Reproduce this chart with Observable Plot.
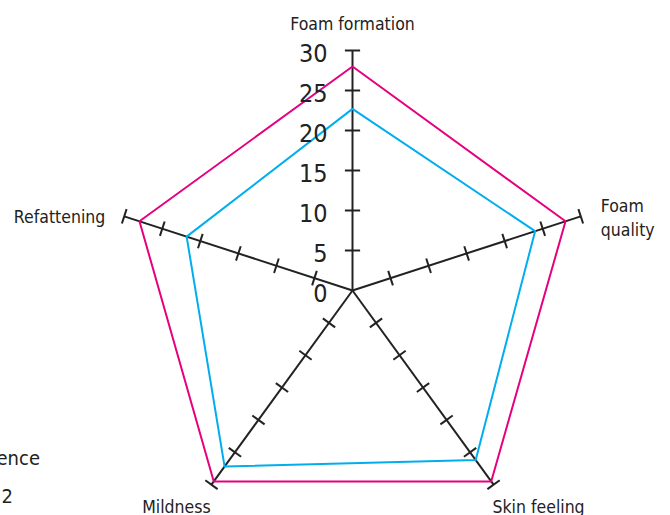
<!DOCTYPE html>
<html><head><meta charset="utf-8">
<script src="https://cdn.jsdelivr.net/npm/d3@7"></script>
<script src="https://cdn.jsdelivr.net/npm/@observablehq/plot@0.6"></script>
<style>
html,body{margin:0;padding:0;background:#fff;overflow:hidden;width:670px;height:515px;position:relative}
#chart{position:absolute;left:0;top:0}
.leg{position:absolute;font-family:"DejaVu Sans Condensed","DejaVu Sans",sans-serif;font-size:20px;line-height:24px;color:#222;white-space:nowrap;text-align:right;width:300px}
.leg span{display:inline-block;width:30px;height:2px;vertical-align:middle;margin-right:8px}
</style></head><body>
<div id="chart"></div>
<script>
// ---- data ----
const attributes = ["Foam formation", "Foam quality", "Skin feeling", "Mildness", "Refattening"];
const seriesNames = ["Reference", "Formulation 2"];
const referenceValues = [28, 28, 29.5, 29.5, 28];
const formulation2Values = [22.7, 24, 26.2, 27.2, 21.8];
const tickValues = [0, 5, 10, 15, 20, 25, 30];
const seriesColors = ["#e6007e", "#00aeef"];

// ---- geometry helpers ----
const maxR = 30;
const n = attributes.length;
const angle = i => Math.PI / 2 - i * 2 * Math.PI / n;
const pt = (i, r) => [r * Math.cos(angle(i)), r * Math.sin(angle(i))];

const axes = attributes.map((a, i) => {
  const [x2, y2] = pt(i, maxR);
  return {attr: a, x1: 0, y1: 0, x2, y2};
});

const halfTick = 0.95;
const ticks = [];
attributes.forEach((a, i) => {
  tickValues.filter(v => v > 0).forEach(v => {
    const [x, y] = pt(i, v);
    const px = -Math.sin(angle(i)), py = Math.cos(angle(i));
    ticks.push({x1: x - px * halfTick, y1: y - py * halfTick, x2: x + px * halfTick, y2: y + py * halfTick});
  });
});

const allSeries = [referenceValues, formulation2Values];
const points = [];
allSeries.forEach((vals, s) => {
  vals.forEach((v, i) => {
    const [x, y] = pt(i, v);
    points.push({series: seriesNames[s], attr: attributes[i], x, y});
  });
});

// label placement (pixel offsets from each axis end)
const labelStyle = [
  {dx: 0, dy: -28, anchor: "middle"},
  {dx: 20, dy: 0, anchor: "start"},
  {dx: 45, dy: 21, anchor: "middle"},
  {dx: -35, dy: 21, anchor: "middle"},
  {dx: -19, dy: -1, anchor: "end"}
];
const labelText = ["Foam formation", "Foam\nquality", "Skin feeling", "Mildness", "Refattening"];
const labels = axes.map((d, i) => ({...d, text: labelText[i], ...labelStyle[i]}));

const font = '"DejaVu Sans Condensed","DejaVu Sans",sans-serif';
const W = 670, H = 515, cx = 352, cy = 290, ppu = 8;

const chart = Plot.plot({
  width: W, height: H, margin: 0,
  style: {fontFamily: font, background: "#fff", color: "#222"},
  x: {domain: [-cx / ppu, (W - cx) / ppu], axis: null},
  y: {domain: [-(H - cy) / ppu, cy / ppu], axis: null},
  color: {domain: seriesNames, range: seriesColors},
  marks: [
    Plot.link(axes, {x1: "x1", y1: "y1", x2: "x2", y2: "y2", stroke: "#222", strokeWidth: 2}),
    Plot.link(ticks, {x1: "x1", y1: "y1", x2: "x2", y2: "y2", stroke: "#222", strokeWidth: 2}),
    Plot.line(points, {x: "x", y: "y", z: "series", stroke: "series", strokeWidth: 2, curve: "linear-closed"}),
    Plot.text(tickValues, {x: () => 0, y: d => d, text: d => String(d), textAnchor: "end", dx: -25, dy: 3, fontSize: 25, fill: "#222"}),
    ...labels.map(l => Plot.text([l], {x: "x2", y: "y2", text: "text", dx: l.dx, dy: l.dy, textAnchor: l.anchor, fontSize: 17.5, lineHeight: 1.35, fill: "#222"}))
  ]
});
document.getElementById("chart").appendChild(chart);

// legend (partly outside the page on the left, as in the reference)
const leg1 = document.createElement("div");
leg1.className = "leg";
leg1.style.left = (40 - 300) + "px";
leg1.style.top = "446px";
leg1.innerHTML = `<span style="background:${seriesColors[0]}"></span>${seriesNames[0]}`;
document.body.appendChild(leg1);
const leg2 = document.createElement("div");
leg2.className = "leg";
leg2.style.left = (13 - 300) + "px";
leg2.style.top = "484px";
leg2.innerHTML = `<span style="background:${seriesColors[1]}"></span>${seriesNames[1]}`;
document.body.appendChild(leg2);
</script>
</body></html>
